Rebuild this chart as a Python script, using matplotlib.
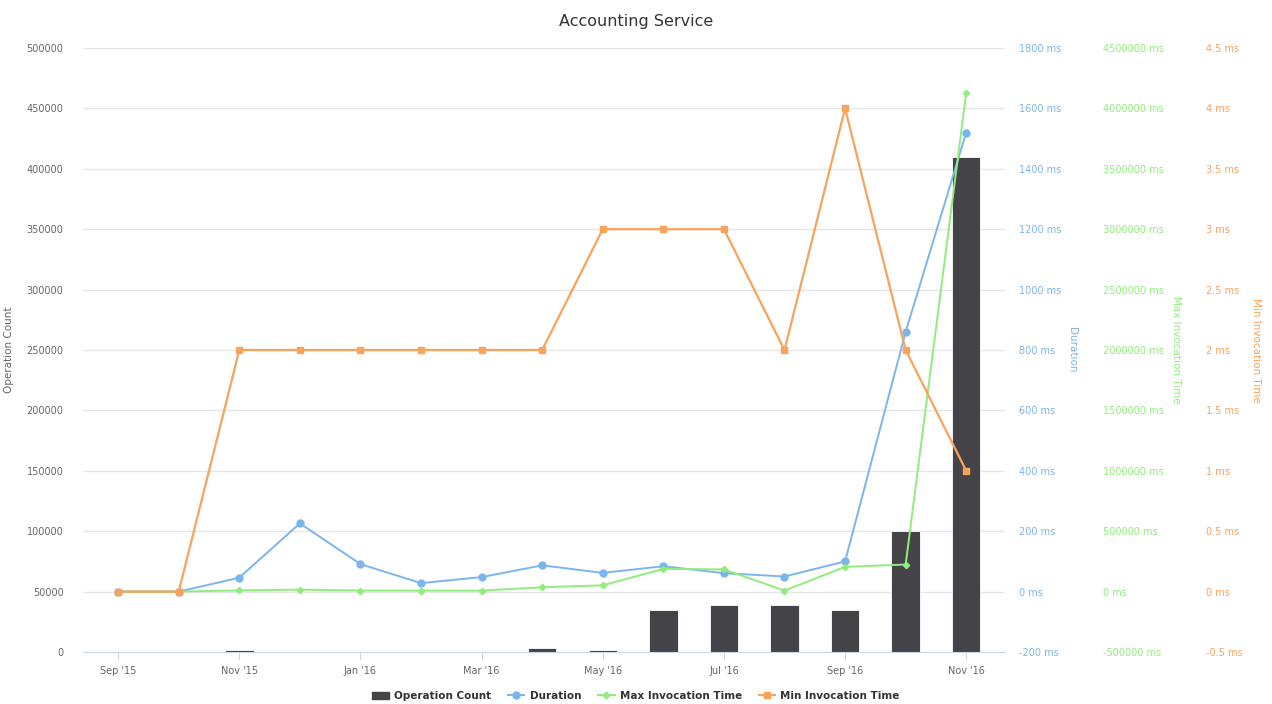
import matplotlib
matplotlib.use("Agg")
import matplotlib.pyplot as plt
import numpy as np
from matplotlib.lines import Line2D
from matplotlib.patches import Patch
from matplotlib.ticker import FuncFormatter, MultipleLocator

months = ["Sep '15", "Oct '15", "Nov '15", "Dec '15", "Jan '16", "Feb '16", "Mar '16",
          "Apr '16", "May '16", "Jun '16", "Jul '16", "Aug '16", "Sep '16", "Oct '16", "Nov '16"]
operation_count = [0, 0, 1500, 0, 0, 0, 0, 3500, 1500, 35000, 39000, 39000, 35000, 100000, 410000]
duration_ms = [0, 0, 46, 226, 91, 28, 48, 87, 62, 84, 61, 50, 100, 860, 1520]
max_invocation_ms = [0, 0, 10000, 16000, 9000, 8000, 8000, 36000, 52000, 188000, 184000, 8000,
                     205000, 224000, 4130000]
min_invocation_ms = [0, 0, 2, 2, 2, 2, 2, 2, 3, 3, 3, 2, 4, 2, 1]

C_BAR = "#434348"
C_DUR = "#7cb5ec"
C_MAX = "#90ed7d"
C_MIN = "#f7a35c"
C_TXT = "#666666"

plt.rcParams['font.family'] = ['DejaVu Sans']
plt.rcParams['axes.unicode_minus'] = False


def ms_label(v, pos):
    if float(v).is_integer():
        return f"{int(v)} ms"
    return f"{v:g} ms"


fig = plt.figure(figsize=(12.72, 7.04), dpi=100)
ax = fig.add_axes([83 / 1272, 1 - 652 / 704, 922 / 1272, 604 / 704])
x = np.arange(len(months))

ax.bar(x, operation_count, width=0.47, color=C_BAR, edgecolor="white", linewidth=0.6, zorder=2)
ax.set_xlim(-0.58, 14.64)
ax.set_ylim(0, 500000)
ax.yaxis.set_major_locator(MultipleLocator(50000))
ax.yaxis.set_major_formatter(FuncFormatter(lambda v, p: f"{int(v)}"))
ax.grid(axis="y", color="#e6e6e6", linewidth=1, zorder=0)
ax.set_axisbelow(True)
for s in ["top", "right", "left"]:
    ax.spines[s].set_visible(False)
ax.spines["bottom"].set_color("#ccd6eb")
ax.set_xticks(x[::2])
ax.set_xticklabels(months[::2])
ax.tick_params(axis="x", colors="#ccd6eb", labelcolor=C_TXT, labelsize=7, length=6, pad=4)
ax.tick_params(axis="y", length=0, labelcolor=C_TXT, labelsize=7, pad=14)
ax.set_ylabel("Operation Count", fontsize=7.5, color=C_TXT)
ax.yaxis.set_label_coords(-0.075, 0.5)


def twin(pos, lo, hi, step, color, label, label_x):
    t = ax.twinx()
    t.spines["right"].set_position(("axes", pos))
    for s in t.spines.values():
        s.set_visible(False)
    t.set_ylim(lo, hi)
    t.yaxis.set_major_locator(MultipleLocator(step))
    t.yaxis.set_major_formatter(FuncFormatter(ms_label))
    t.tick_params(axis="y", length=0, labelcolor=color, labelsize=7, pad=10)
    t.set_ylabel(label, color=color, fontsize=7.5, rotation=270)
    t.yaxis.set_label_coords(label_x, 0.5)
    return t


ax_dur = twin(1.0, -200, 1800, 200, C_DUR, "Duration", 1.078)
ax_max = twin(1.091, -500000, 4500000, 500000, C_MAX, "Max Invocation Time", 1.191)
ax_min = twin(1.203, -0.5, 4.5, 0.5, C_MIN, "Min Invocation Time", 1.278)

ax_dur.plot(x, duration_ms, color=C_DUR, linewidth=1.4, marker="o", markersize=5)
ax_max.plot(x, max_invocation_ms, color=C_MAX, linewidth=1.4, marker="D", markersize=3.2)
ax_min.plot(x, min_invocation_ms, color=C_MIN, linewidth=1.6, marker="s", markersize=5)

fig.text(0.5, 0.970, "Accounting Service", ha="center", va="center", fontsize=11.5, color="#333333")

handles = [
    Patch(facecolor=C_BAR, edgecolor=C_BAR),
    Line2D([], [], color=C_DUR, marker="o", markersize=5, linewidth=1.5),
    Line2D([], [], color=C_MAX, marker="D", markersize=3.5, linewidth=1.5),
    Line2D([], [], color=C_MIN, marker="s", markersize=5, linewidth=1.5),
]
labels = ["Operation Count", "Duration", "Max Invocation Time", "Min Invocation Time"]
fig.legend(handles, labels, loc="center", bbox_to_anchor=(0.5, 1 - 696 / 704), ncol=4,
           frameon=False, prop={"weight": "bold", "size": 7.5}, labelcolor="#333333",
           handlelength=1.6, columnspacing=1.6, handletextpad=0.5)

fig.savefig("out.png", dpi=100)
